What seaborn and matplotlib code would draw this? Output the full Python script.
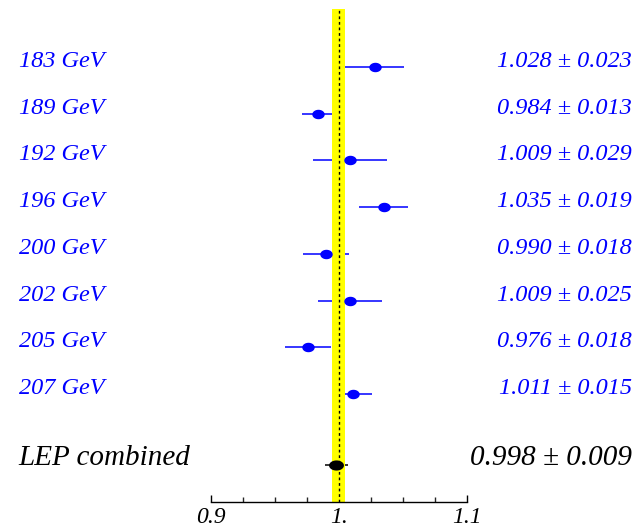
import numpy as np
import pandas as pd
import matplotlib
matplotlib.use("Agg")
import matplotlib.pyplot as plt
from matplotlib.path import Path
from matplotlib.transforms import blended_transform_factory
from matplotlib.ticker import MultipleLocator
import seaborn as sns

# ---- data ----
energies = ["183 GeV", "189 GeV", "192 GeV", "196 GeV", "200 GeV", "202 GeV", "205 GeV", "207 GeV"]
ratios = [1.028, 0.984, 1.009, 1.035, 0.990, 1.009, 0.976, 1.011]
errors = [0.023, 0.013, 0.029, 0.019, 0.018, 0.025, 0.018, 0.015]
comb_label = "LEP combined"
comb_ratio = 0.998
comb_error = 0.009
band_center = 1.0
band_halfwidth = 0.005
tick_values = [0.9, 1.0, 1.1]
tick_labels = ["0.9", "1.", "1.1"]

sns.set_style("white")
plt.rcParams["font.family"] = ["Liberation Serif", "DejaVu Serif"]
plt.rcParams["font.style"] = "italic"

fig = plt.figure(figsize=(6.43, 5.27), dpi=100)
W, H = 643, 527
x0, x1 = 210.7, 466.7
ybot, ytop = 501.7, 9.3
ax = fig.add_axes([x0 / W, (H - ybot) / H, (x1 - x0) / W, (ybot - ytop) / H])

rows = np.arange(len(energies))
comb_row = len(energies) + 0.52
df = pd.DataFrame({"energy": energies, "ratio": ratios, "err": errors, "row": rows})
dfc = pd.DataFrame({"energy": [comb_label], "ratio": [comb_ratio], "err": [comb_error], "row": [comb_row]})

# error bars (below the band)
ax.errorbar(df["ratio"], df["row"], xerr=df["err"], fmt="none", ecolor="blue",
            elinewidth=1.1, capsize=0, zorder=1)
ax.errorbar(dfc["ratio"], dfc["row"], xerr=dfc["err"], fmt="none", ecolor="black",
            elinewidth=1.1, capsize=0, zorder=1)

# yellow band + dotted line
ax.axvspan(band_center - band_halfwidth, band_center + band_halfwidth,
           color="#FFFF00", lw=0, zorder=2)
ax.axvline(band_center, color="black", lw=1.0, ls=(0, (2, 2)), zorder=2.5)

# elliptical markers
t = np.linspace(0, 2 * np.pi, 64)
ell_blue = Path(np.column_stack([np.cos(t), 0.76 * np.sin(t)]), closed=True)
ell_black = Path(np.column_stack([np.cos(t), 0.68 * np.sin(t)]), closed=True)
sns.scatterplot(data=df, x="ratio", y="row", ax=ax, marker=ell_blue, s=80,
                color="blue", edgecolor="blue", linewidth=0, zorder=3, legend=False)
sns.scatterplot(data=dfc, x="ratio", y="row", ax=ax, marker=ell_black, s=115,
                color="black", edgecolor="black", linewidth=0, zorder=3, legend=False)

ax.set_xlim(0.9, 1.1)
top_row = -(67 - ytop) / 46.7
bot_row = (ybot - 67) / 46.7
ax.set_ylim(bot_row, top_row)
ax.set_xlabel("")
ax.set_ylabel("")
ax.set_yticks([])
for s in ["left", "right", "top"]:
    ax.spines[s].set_visible(False)
ax.spines["bottom"].set_color("black")
ax.spines["bottom"].set_linewidth(1.0)
ax.set_xticks(tick_values)
ax.xaxis.set_minor_locator(MultipleLocator(0.025))
ax.tick_params(axis="x", which="major", direction="in", length=5, width=1, pad=4,
               bottom=True, colors="black", labelsize=17)
ax.tick_params(axis="x", which="minor", direction="in", length=3.5, width=1, bottom=True)
ax.set_xticklabels(tick_labels, fontstyle="italic")
ax.patch.set_alpha(0)

# text labels
tr = blended_transform_factory(fig.transFigure, ax.transData)
for name, r, e, row in zip(energies, ratios, errors, rows):
    ax.text(19 / W, row, name, transform=tr, ha="left", va="baseline",
            fontsize=17.5, fontstyle="italic", color="blue", clip_on=False)
    ax.text(632 / W, row, f"{r:.3f} \u00b1 {e:.3f}", transform=tr, ha="right",
            va="baseline", fontsize=17.5, fontstyle="italic", color="blue", clip_on=False)
ax.text(18 / W, comb_row, comb_label, transform=tr, ha="left", va="baseline",
        fontsize=21, fontstyle="italic", color="black", clip_on=False)
ax.text(632 / W, comb_row, f"{comb_ratio:.3f} \u00b1 {comb_error:.3f}", transform=tr,
        ha="right", va="baseline", fontsize=21, fontstyle="italic", color="black",
        clip_on=False)

fig.savefig("out.png", dpi=100, facecolor="white")
